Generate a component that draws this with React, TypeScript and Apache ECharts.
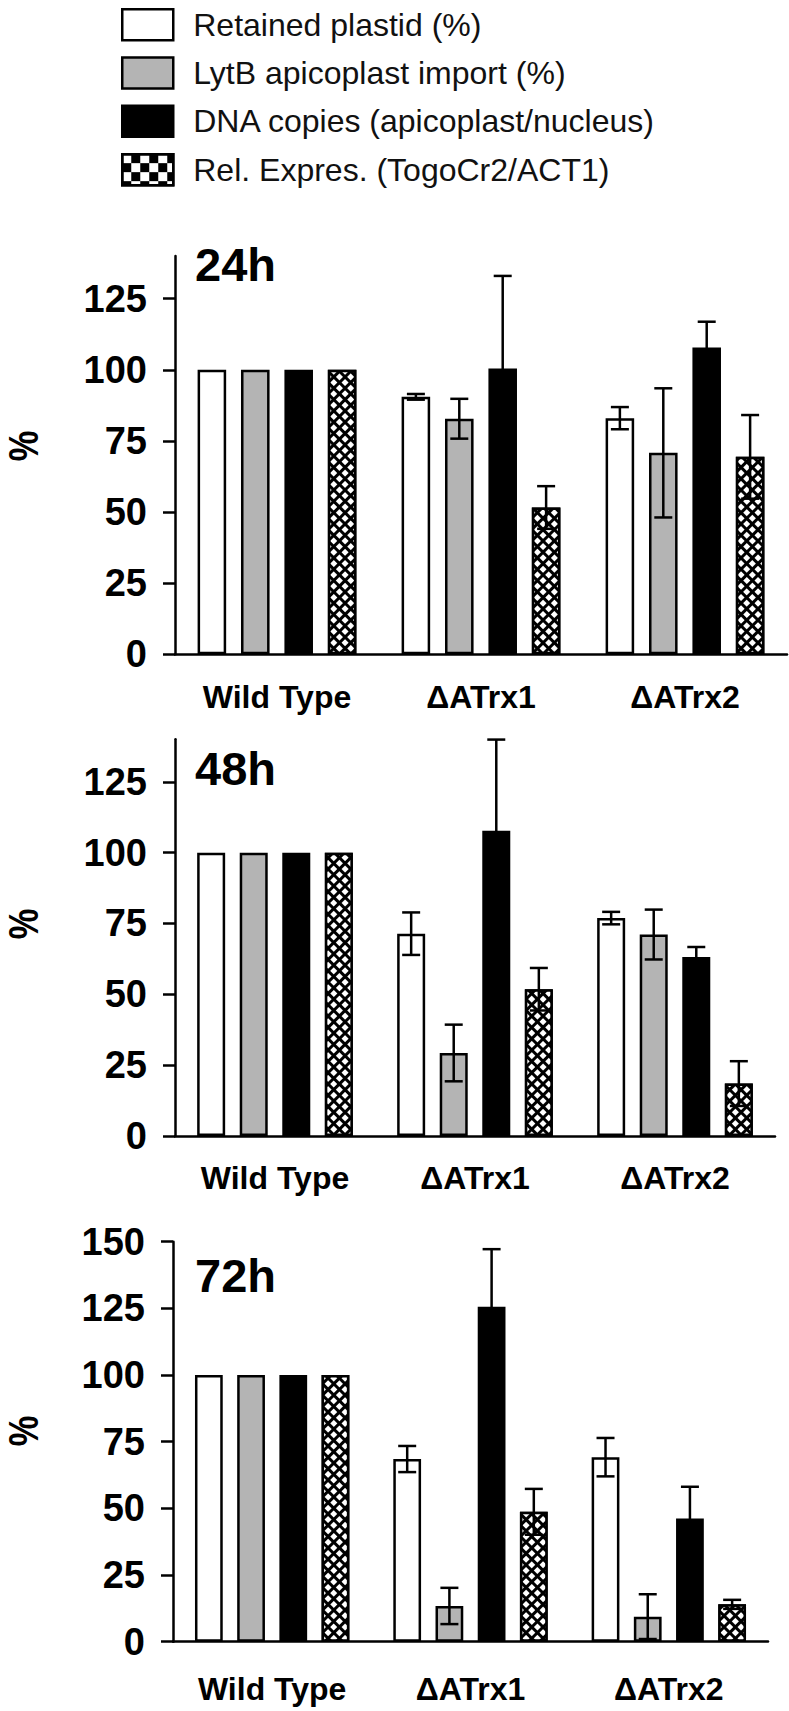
import React, { useEffect, useRef } from 'react';
import * as echarts from 'echarts';

// ---------- data ----------
const CATEGORIES = ['Wild Type', 'ΔATrx1', 'ΔATrx2'];
const SERIES_NAMES = [
  'Retained plastid (%)',
  'LytB apicoplast import (%)',
  'DNA copies (apicoplast/nucleus)',
  'Rel. Expres. (TogoCr2/ACT1)',
];
const PANEL_LABELS = ['24h', '48h', '72h'];

// 24h
const RETAINED_24 = [100, 90.5, 83.0];
const RETAINED_24_SD = [0, 1.0, 3.9];
const LYTB_24 = [100, 82.8, 70.8];
const LYTB_24_SD = [0, 7.0, 22.7];
const DNA_24 = [100, 100.5, 107.8];
const DNA_24_SD = [0, 32.5, 9.1];
const REL_24 = [100, 51.6, 69.4];
const REL_24_SD = [0, 7.5, 14.7];

// 48h
const RETAINED_48 = [100, 71.4, 76.9];
const RETAINED_48_SD = [0, 7.5, 2.2];
const LYTB_48 = [100, 29.3, 71.1];
const LYTB_48_SD = [0, 10.0, 8.8];
const DNA_48 = [100, 107.7, 63.2];
const DNA_48_SD = [0, 32.2, 3.5];
const REL_48 = [100, 51.8, 18.5];
const REL_48_SD = [0, 7.5, 7.9];

// 72h
const RETAINED_72 = [100, 68.5, 69.2];
const RETAINED_72_SD = [0, 4.9, 7.2];
const LYTB_72 = [100, 13.4, 9.4];
const LYTB_72_SD = [0, 6.8, 8.4];
const DNA_72 = [100, 125.6, 46.2];
const DNA_72_SD = [0, 21.6, 11.9];
const REL_72 = [100, 48.7, 14.0];
const REL_72_SD = [0, 8.6, 1.7];

// axis ticks
const Y_TICKS_140 = [0, 25, 50, 75, 100, 125];
const Y_MAX_140 = 140;
const Y_TICKS_150 = [0, 25, 50, 75, 100, 125, 150];
const Y_MAX_150 = 150;

const PANELS = [
  {
    label: PANEL_LABELS[0],
    means: [RETAINED_24, LYTB_24, DNA_24, REL_24],
    sds: [RETAINED_24_SD, LYTB_24_SD, DNA_24_SD, REL_24_SD],
    ticks: Y_TICKS_140,
    max: Y_MAX_140,
  },
  {
    label: PANEL_LABELS[1],
    means: [RETAINED_48, LYTB_48, DNA_48, REL_48],
    sds: [RETAINED_48_SD, LYTB_48_SD, DNA_48_SD, REL_48_SD],
    ticks: Y_TICKS_140,
    max: Y_MAX_140,
  },
  {
    label: PANEL_LABELS[2],
    means: [RETAINED_72, LYTB_72, DNA_72, REL_72],
    sds: [RETAINED_72_SD, LYTB_72_SD, DNA_72_SD, REL_72_SD],
    ticks: Y_TICKS_150,
    max: Y_MAX_150,
  },
];

// ---------- layout / style ----------
const FONT = '"Liberation Sans", Arial, Helvetica, sans-serif';
const GRIDS = [
  { left: 175, top: 256, width: 612, height: 398.3 },
  { left: 175, top: 739.3, width: 600, height: 396.7 },
  { left: 173, top: 1241.7, width: 595, height: 400 },
];
const X_LABEL_MARGIN = [27, 26, 31];
const TITLE_POS = [
  { x: 195, y: 241 },
  { x: 195, y: 745 },
  { x: 195, y: 1252 },
];
const PCT_POS = [
  { x: 23, y: 446 },
  { x: 23, y: 924 },
  { x: 23, y: 1431 },
];
const BAR_FRAC = 0.14;
const BAR_GAP = 0.52;
const LINE_W = 2.5;
const GRAY = '#b4b4b4';

const hatchDecal = {
  symbol: 'rect',
  symbolSize: 1,
  color: '#ffffff',
  dashArrayX: [4.3, 2.9],
  dashArrayY: [4.3, 2.9],
  rotation: Math.PI / 4,
};
const checkerDecal = {
  symbol: 'rect',
  symbolSize: 1,
  color: '#000000',
  dashArrayX: [
    [8.5, 8.5],
    [0, 8.5, 8.5, 0],
  ],
  dashArrayY: [8.5, 0],
};

const seriesStyles = [
  { color: '#ffffff', borderColor: '#000', borderWidth: LINE_W },
  { color: GRAY, borderColor: '#000', borderWidth: LINE_W },
  { color: '#000000', borderColor: '#000', borderWidth: LINE_W },
  { color: '#000000', borderColor: '#000', borderWidth: LINE_W, decal: hatchDecal },
];
const legendStyles = [
  { color: '#ffffff', borderColor: '#000', borderWidth: LINE_W },
  { color: GRAY, borderColor: '#000', borderWidth: LINE_W },
  { color: '#000000', borderColor: '#000', borderWidth: LINE_W },
  { color: '#ffffff', borderColor: '#000', borderWidth: LINE_W, decal: checkerDecal },
];

export default function App() {
  const ref = useRef<HTMLDivElement>(null);

  useEffect(() => {
    if (!ref.current) return;
    const chart = echarts.init(ref.current, undefined, { renderer: 'svg' });

    const grid: any[] = [];
    const xAxis: any[] = [];
    const yAxis: any[] = [];
    const series: any[] = [];
    const graphic: any[] = [];

    PANELS.forEach((p, pi) => {
      grid.push({ ...GRIDS[pi], containLabel: false });
      xAxis.push({
        type: 'category',
        gridIndex: pi,
        data: CATEGORIES,
        axisLine: { lineStyle: { color: '#000', width: LINE_W } },
        axisTick: {
          alignWithLabel: true,
          length: 12,
          lineStyle: { color: '#000', width: LINE_W },
        },
        axisLabel: {
          margin: X_LABEL_MARGIN[pi],
          fontFamily: FONT,
          fontWeight: 'bold',
          fontSize: 32,
          color: '#000',
        },
        splitLine: { show: false },
      });
      yAxis.push({
        type: 'value',
        gridIndex: pi,
        min: 0,
        max: p.max,
        interval: 25,
        axisLine: { show: true, lineStyle: { color: '#000', width: LINE_W } },
        axisTick: {
          show: true,
          length: 12,
          customValues: p.ticks,
          lineStyle: { color: '#000', width: LINE_W },
        },
        axisLabel: {
          customValues: p.ticks,
          margin: 28,
          fontFamily: FONT,
          fontWeight: 'bold',
          fontSize: 38,
          color: '#000',
        },
        splitLine: { show: false },
      });

      p.means.forEach((vals, si) => {
        series.push({
          type: 'bar',
          name: SERIES_NAMES[si],
          xAxisIndex: pi,
          yAxisIndex: pi,
          data: vals,
          barWidth: BAR_FRAC * 100 + '%',
          barGap: BAR_GAP * 100 + '%',
          itemStyle: seriesStyles[si],
          z: 2,
        });
      });

      const errData: any[] = [];
      p.means.forEach((vals, si) => {
        vals.forEach((v, ci) => {
          const sd = p.sds[si][ci];
          if (sd > 0) errData.push([ci, v, sd, si]);
        });
      });
      series.push({
        type: 'custom',
        xAxisIndex: pi,
        yAxisIndex: pi,
        data: errData,
        encode: { x: 0, y: 1 },
        silent: true,
        z: 5,
        clip: false,
        renderItem: (params: any, api: any) => {
          const ci = api.value(0);
          const mean = api.value(1);
          const sd = api.value(2);
          const si = api.value(3);
          const band = api.size([1, 0])[0];
          const bw = band * BAR_FRAC;
          const off = (si - 1.5) * bw * (1 + BAR_GAP);
          const top = api.coord([ci, mean + sd]);
          const bot = api.coord([ci, mean - sd]);
          const x = top[0] + off;
          const cap = 9;
          const st = { stroke: '#000', lineWidth: LINE_W };
          return {
            type: 'group',
            children: [
              { type: 'line', shape: { x1: x, y1: top[1], x2: x, y2: bot[1] }, style: st },
              { type: 'line', shape: { x1: x - cap, y1: top[1], x2: x + cap, y2: top[1] }, style: st },
              { type: 'line', shape: { x1: x - cap, y1: bot[1], x2: x + cap, y2: bot[1] }, style: st },
            ],
          };
        },
      });

      graphic.push({
        type: 'text',
        x: TITLE_POS[pi].x,
        y: TITLE_POS[pi].y,
        style: {
          text: p.label,
          fontFamily: FONT,
          fontWeight: 'bold',
          fontSize: 47,
          fill: '#000',
          align: 'left',
          verticalAlign: 'top',
        },
      });
      graphic.push({
        type: 'text',
        x: PCT_POS[pi].x,
        y: PCT_POS[pi].y,
        rotation: Math.PI / 2,
        scaleX: 0.8,
        style: {
          text: '%',
          fontFamily: FONT,
          fontWeight: 'bold',
          fontSize: 43,
          fill: '#000',
          align: 'center',
          verticalAlign: 'middle',
        },
      });
    });

    chart.setOption({
      animation: false,
      backgroundColor: '#ffffff',
      legend: {
        orient: 'vertical',
        left: 121,
        top: 8,
        padding: 0,
        icon: 'rect',
        itemWidth: 51,
        itemHeight: 31,
        itemGap: 14.8,
        selectedMode: false,
        textStyle: {
          fontFamily: FONT,
          fontSize: 32,
          color: '#111',
          lineHeight: 31,
          padding: [0, 0, 0, 15],
        },
        data: SERIES_NAMES.map((n, i) => ({ name: n, itemStyle: legendStyles[i] })),
      },
      grid,
      xAxis,
      yAxis,
      series,
      graphic,
    });

    return () => {
      chart.dispose();
    };
  }, []);

  return (
    <div
      ref={ref}
      style={{ position: 'absolute', left: 0, top: 0, width: 789, height: 1711 }}
    />
  );
}
